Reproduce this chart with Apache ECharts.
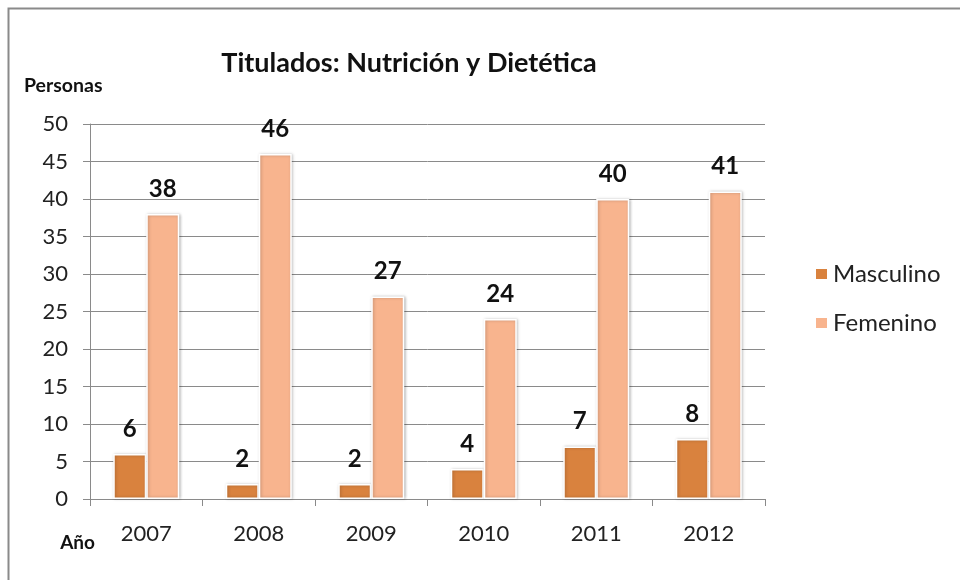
<!DOCTYPE html>
<html>
<head>
<meta charset="utf-8">
<script src="https://cdn.jsdelivr.net/npm/echarts@6/dist/echarts.min.js"></script>
<style>
  html, body { margin: 0; padding: 0; background: #fff; }
  #chart { width: 960px; height: 580px; }
</style>
</head>
<body>
<div id="chart"></div>
<script>
var years = ['2007', '2008', '2009', '2010', '2011', '2012'];
var masculino = [6, 2, 2, 4, 7, 8];
var femenino = [38, 46, 27, 24, 40, 41];

var font = 'Lato, "Open Sans", sans-serif';
var chart = echarts.init(document.getElementById('chart'));

var barLabel = {
    show: true,
    position: 'top',
    distance: 13,
    fontFamily: font,
    fontWeight: 'bold',
    fontSize: 24,
    color: '#111'
};

chart.setOption({
    animation: false,
    textStyle: { fontFamily: font },
    graphic: [{
        type: 'rect',
        shape: { x: 8.5, y: 8.5, width: 1000, height: 700 },
        style: { fill: 'none', stroke: '#8a8a8a', lineWidth: 2 }
    }],
    title: {
        text: 'Titulados: Nutrición y Dietética',
        left: 404,
        top: 45,
        textAlign: 'center',
        textStyle: { fontFamily: font, fontWeight: 'bold', fontSize: 27, color: '#111' }
    },
    legend: {
        orient: 'vertical',
        left: 809,
        top: 257,
        itemWidth: 13,
        itemHeight: 12,
        itemGap: 25,
        icon: 'rect',
        textStyle: { fontFamily: font, fontSize: 24, lineHeight: 24, color: '#222' },
        data: ['Masculino', 'Femenino']
    },
    grid: { left: 90, right: 195, top: 124, bottom: 81 },
    xAxis: {
        type: 'category',
        data: years,
        name: 'Año',
        nameLocation: 'start',
        nameGap: -5,
        nameTextStyle: { fontFamily: font, fontWeight: 'bold', fontSize: 19, color: '#111',
            padding: [34, 0, 0, 0], align: 'right', verticalAlign: 'top' },
        axisLine: { lineStyle: { color: '#8a8a8a', width: 1 } },
        axisTick: { show: true, length: 7, lineStyle: { color: '#8a8a8a' } },
        axisLabel: { fontFamily: font, fontSize: 22, color: '#222', margin: 24 }
    },
    yAxis: {
        type: 'value',
        min: 0,
        max: 50,
        interval: 5,
        name: 'Personas',
        nameLocation: 'end',
        nameGap: 28,
        nameTextStyle: { fontFamily: font, fontWeight: 'bold', fontSize: 19.5, color: '#111',
            align: 'left', padding: [0, 0, 0, -66] },
        axisLine: { show: true, lineStyle: { color: '#8a8a8a', width: 1 } },
        axisTick: { show: true, length: 7, lineStyle: { color: '#8a8a8a' } },
        axisLabel: { fontFamily: font, fontSize: 22, color: '#222', margin: 22 },
        splitLine: { lineStyle: { color: '#8a8a8a', width: 1 } }
    },
    series: [{
        name: 'Masculino',
        type: 'bar',
        data: masculino,
        barWidth: 33,
        barGap: '0%',
        itemStyle: { color: '#D9823E', borderColor: '#fff', borderWidth: 1.5,
            shadowColor: 'rgba(0,0,0,0.25)', shadowBlur: 3, shadowOffsetX: 1 },
        label: barLabel
    }, {
        name: 'Femenino',
        type: 'bar',
        data: femenino,
        barWidth: 33,
        itemStyle: { color: '#F8B48E', borderColor: '#fff', borderWidth: 1.5,
            shadowColor: 'rgba(0,0,0,0.25)', shadowBlur: 3, shadowOffsetX: 1 },
        label: barLabel
    }]
});
</script>
</body>
</html>
